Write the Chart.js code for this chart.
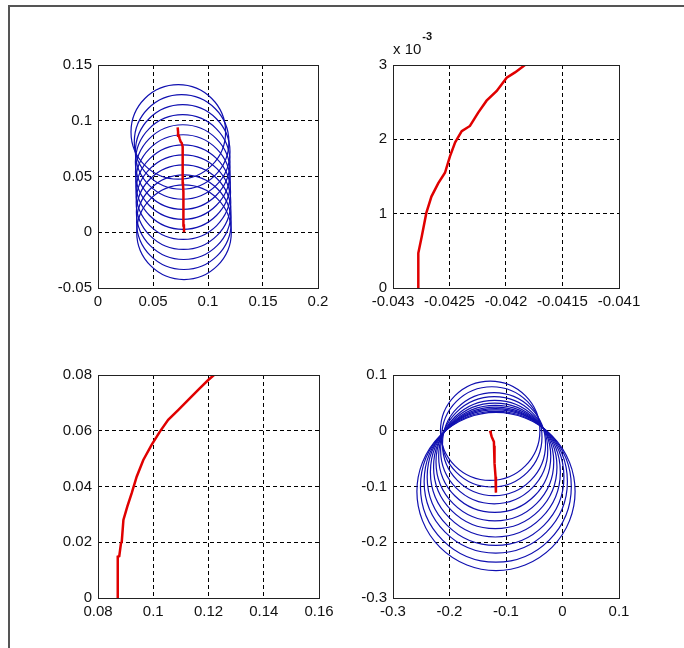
<!DOCTYPE html>
<html lang="en">
<head>
    <meta charset="UTF-8">
    <title>Trajectories</title>
    <script src="https://cdn.jsdelivr.net/npm/chart.js"></script>
    <style>
        body {
            margin: 0;
            background: #fff;
            width: 684px;
            height: 648px;
            overflow: hidden;
            position: relative;
            font-family: "Liberation Sans", Arial, sans-serif;
        }
        .frame {
            position: absolute;
            left: 8px;
            top: 5px;
            width: 700px;
            height: 700px;
            border-left: 2px solid #555;
            border-top: 2px solid #555;
        }
        canvas {
            position: absolute;
        }
    </style>
</head>
<body>

<div class="frame"></div>
<canvas id="plot1"></canvas>
<canvas id="plot2"></canvas>
<canvas id="plot3"></canvas>
<canvas id="plot4"></canvas>

<script>
    // top-left: circles (centres + radii) and path of the centres
    const circ1X = [0.0782, 0.0781, 0.0779, 0.0777, 0.0775, 0.0773, 0.0771, 0.0770, 0.0770, 0.0760, 0.0730];
    const circ1Y = [0, 0.009, 0.018, 0.027, 0.036, 0.045, 0.054, 0.063, 0.072, 0.081, 0.090];
    const circ1R = [0.043, 0.043, 0.043, 0.043, 0.043, 0.043, 0.043, 0.043, 0.043, 0.043, 0.043];
    const path1X = [0.0782, 0.0781, 0.0779, 0.0777, 0.0776, 0.0774, 0.0772, 0.0771, 0.0770, 0.0770, 0.0768, 0.0761, 0.0752, 0.0742, 0.0735, 0.0728, 0.0724];
    const path1Y = [0, 0.006, 0.012, 0.020, 0.029, 0.036, 0.044, 0.053, 0.060, 0.068, 0.0767, 0.0800, 0.0811, 0.0840, 0.0865, 0.0900, 0.0940];
    const xTicks1 = [0, 0.05, 0.1, 0.15, 0.2];
    const xLabels1 = ['0', '0.05', '0.1', '0.15', '0.2'];
    const yTicks1 = [-0.05, 0, 0.05, 0.1, 0.15];
    const yLabels1 = ['-0.05', '0', '0.05', '0.1', '0.15'];

    // top-right
    const path2X = [-0.042776, -0.042776, -0.042746, -0.042705, -0.042660, -0.042599, -0.042540, -0.042496, -0.042450, -0.042392, -0.042319, -0.042246, -0.042172, -0.042082, -0.041994, -0.041920, -0.041832];
    const path2Y = [0, 0.00047, 0.00069, 0.00101, 0.00123, 0.00141, 0.00155, 0.00177, 0.00196, 0.00211, 0.00218, 0.00236, 0.00252, 0.00265, 0.00283, 0.00290, 0.00300];
    const xTicks2 = [-0.043, -0.0425, -0.042, -0.0415, -0.041];
    const xLabels2 = ['-0.043', '-0.0425', '-0.042', '-0.0415', '-0.041'];
    const yTicks2 = [0, 0.001, 0.002, 0.003];
    const yLabels2 = ['0', '1', '2', '3'];

    // bottom-left
    const path3X = [0.0870, 0.0871, 0.0872, 0.0877, 0.0883, 0.0886, 0.0892, 0.0906, 0.0922, 0.0940, 0.0964, 0.0994, 0.1024, 0.1054, 0.1091, 0.1133, 0.1169, 0.1199, 0.1220];
    const path3Y = [0, 0.0077, 0.0148, 0.0150, 0.0195, 0.0202, 0.0280, 0.0328, 0.0376, 0.0435, 0.0495, 0.0549, 0.0597, 0.0639, 0.0675, 0.0717, 0.0753, 0.0782, 0.0800];
    const xTicks3 = [0.08, 0.1, 0.12, 0.14, 0.16];
    const xLabels3 = ['0.08', '0.1', '0.12', '0.14', '0.16'];
    const yTicks3 = [0, 0.02, 0.04, 0.06, 0.08];
    const yLabels3 = ['0', '0.02', '0.04', '0.06', '0.08'];

    // bottom-right
    const circ4X = [-0.1280, -0.1250, -0.1212, -0.1209, -0.1200, -0.1197, -0.1190, -0.1188, -0.1185, -0.1181, -0.1179, -0.1177];
    const circ4Y = [0, -0.011, -0.024, -0.035, -0.046, -0.056, -0.065, -0.074, -0.083, -0.091, -0.1005, -0.109];
    const circ4R = [0.088, 0.0887, 0.0912, 0.0948, 0.0992, 0.1042, 0.1092, 0.115, 0.121, 0.1268, 0.1335, 0.140];
    const path4X = [-0.1283, -0.1270, -0.1254, -0.1214, -0.1212, -0.1209, -0.1197, -0.1185, -0.1180, -0.1177];
    const path4Y = [0, -0.004, -0.0106, -0.0196, -0.027, -0.0345, -0.0585, -0.0824, -0.100, -0.111];
    const xTicks4 = [-0.3, -0.2, -0.1, 0, 0.1];
    const xLabels4 = ['-0.3', '-0.2', '-0.1', '0', '0.1'];
    const yTicks4 = [-0.3, -0.2, -0.1, 0, 0.1];
    const yLabels4 = ['-0.3', '-0.2', '-0.1', '0', '0.1'];

    const BLUE = '#1010b0';
    const RED = '#e00000';
    const FONT = { family: '"Liberation Sans", Arial, sans-serif', size: 15 };

    const pts = (xs, ys) => xs.map((x, i) => ({ x: x, y: ys[i] }));

    // box round the plot area, plus optional exponent note
    const boxPlugin = {
        id: 'box',
        afterDraw(chart) {
            const a = chart.chartArea;
            const ctx = chart.ctx;
            ctx.save();
            ctx.strokeStyle = '#222';
            ctx.lineWidth = 1;
            ctx.strokeRect(a.left + 0.5, a.top + 0.5, a.right - a.left, a.bottom - a.top);
            const note = chart.options.plugins.box && chart.options.plugins.box.exponent;
            if (note) {
                ctx.fillStyle = '#111';
                ctx.textBaseline = 'alphabetic';
                ctx.font = '15px "Liberation Sans", Arial, sans-serif';
                ctx.fillText('x 10', a.left, a.top - 11);
                const w = ctx.measureText('x 10').width;
                ctx.font = 'bold 11px "Liberation Sans", Arial, sans-serif';
                ctx.fillText(note, a.left + w + 1, a.top - 25);
            }
            ctx.restore();
        }
    };

    function axis(min, max, ticks, labels, horizontal) {
        return {
            type: 'linear',
            min: min,
            max: max,
            afterBuildTicks: ax => { ax.ticks = ticks.map(v => ({ value: v })); },
            afterFit: ax => {
                if (horizontal) ax.height = 40; else ax.width = 90;
            },
            grid: { color: '#000', lineWidth: 1, drawTicks: false },
            border: { display: false, dash: [4, 3] },
            ticks: {
                color: '#111',
                font: FONT,
                padding: horizontal ? 5 : 6,
                maxRotation: 0,
                autoSkip: false,
                callback: (v, i) => labels[i]
            }
        };
    }

    function circleSet(xs, ys, rs) {
        return {
            data: pts(xs, ys),
            showLine: false,
            pointStyle: 'circle',
            pointBackgroundColor: 'rgba(0,0,0,0)',
            pointBorderColor: BLUE,
            pointBorderWidth: 1.2,
            pointRadius: c => {
                if (c.dataIndex === undefined) return 0;
                const s = c.chart.scales.x;
                const i = c.dataIndex;
                return Math.abs(s.getPixelForValue(xs[i] + rs[i]) - s.getPixelForValue(xs[i]));
            },
            pointHoverRadius: 0
        };
    }

    function pathSet(xs, ys) {
        return {
            data: pts(xs, ys),
            showLine: true,
            borderColor: RED,
            borderWidth: 2.5,
            pointRadius: 0,
            tension: 0
        };
    }

    // area = [left, top, right, bottom] of the plot box in page pixels
    function makePlot(id, area, datasets, xs, ys, exponent) {
        const cv = document.getElementById(id);
        const [L, T, R, B] = area;
        cv.width = R - L + 90 + 30;
        cv.height = B - T + 40 + 40;
        cv.style.left = (L - 90) + 'px';
        cv.style.top = (T - 40) + 'px';
        new Chart(cv.getContext('2d'), {
            type: 'scatter',
            data: { datasets: datasets },
            options: {
                responsive: false,
                animation: false,
                layout: { padding: { top: 40, right: 30, left: 0, bottom: 0 } },
                plugins: {
                    legend: { display: false },
                    tooltip: { enabled: false },
                    box: { exponent: exponent }
                },
                scales: { x: xs, y: ys }
            },
            plugins: [boxPlugin]
        });
    }

    makePlot('plot1', [98, 65, 318, 288],
        [pathSet(path1X, path1Y), circleSet(circ1X, circ1Y, circ1R)],
        axis(0, 0.2, xTicks1, xLabels1, true),
        axis(-0.05, 0.15, yTicks1, yLabels1, false));

    makePlot('plot2', [393, 65, 619, 288],
        [pathSet(path2X, path2Y)],
        axis(-0.043, -0.041, xTicks2, xLabels2, true),
        axis(0, 0.003, yTicks2, yLabels2, false), '-3');

    makePlot('plot3', [98, 375, 319, 598],
        [pathSet(path3X, path3Y)],
        axis(0.08, 0.16, xTicks3, xLabels3, true),
        axis(0, 0.08, yTicks3, yLabels3, false));

    makePlot('plot4', [393, 375, 619, 598],
        [pathSet(path4X, path4Y), circleSet(circ4X, circ4Y, circ4R)],
        axis(-0.3, 0.1, xTicks4, xLabels4, true),
        axis(-0.3, 0.1, yTicks4, yLabels4, false));
</script>

</body>
</html>
